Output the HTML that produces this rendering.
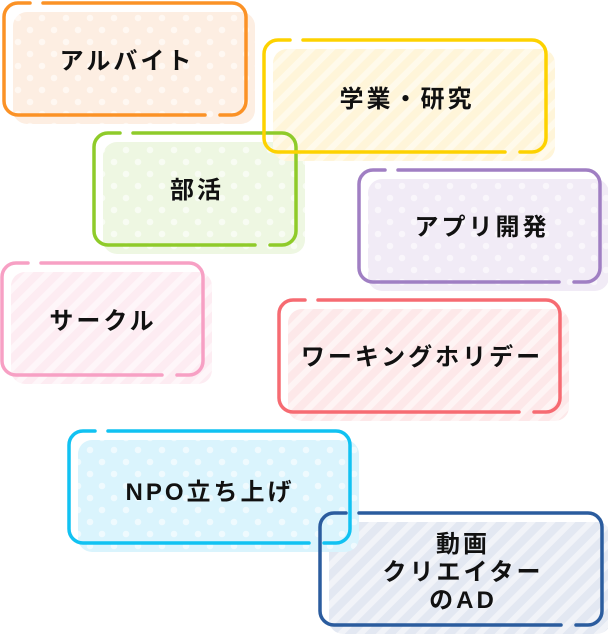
<!DOCTYPE html>
<html><head><meta charset="utf-8"><style>
html,body{margin:0;padding:0;background:#fff}
svg{display:block}
text{font-family:"Liberation Sans","Noto Sans CJK JP",sans-serif;font-size:24px;font-weight:bold;fill:#111;text-anchor:middle;letter-spacing:3px}
</style></head><body>
<svg width="608" height="637" viewBox="0 0 608 637" xmlns="http://www.w3.org/2000/svg">
<defs>
<pattern id="dO" width="24" height="24" patternUnits="userSpaceOnUse"><rect width="24" height="24" fill="#fdeee2"/><circle cx="6" cy="6" r="3.3" fill="#fff8f2"/><circle cx="18" cy="18" r="3.3" fill="#fff8f2"/></pattern>
<pattern id="dG" width="24" height="24" patternUnits="userSpaceOnUse"><rect width="24" height="24" fill="#eef7e2"/><circle cx="6" cy="6" r="3.3" fill="#f8fcf3"/><circle cx="18" cy="18" r="3.3" fill="#f8fcf3"/></pattern>
<pattern id="dP" width="24" height="24" patternUnits="userSpaceOnUse"><rect width="24" height="24" fill="#f1ebf6"/><circle cx="6" cy="6" r="3.3" fill="#f9f6fb"/><circle cx="18" cy="18" r="3.3" fill="#f9f6fb"/></pattern>
<pattern id="dC" width="24" height="24" patternUnits="userSpaceOnUse"><rect width="24" height="24" fill="#daf4fd"/><circle cx="6" cy="6" r="3.3" fill="#effafe"/><circle cx="18" cy="18" r="3.3" fill="#effafe"/></pattern>
<pattern id="sY" width="14" height="14" patternUnits="userSpaceOnUse" patternTransform="rotate(45)"><rect width="14" height="14" fill="#fff5d9"/><rect width="6" height="14" fill="#fffaeb"/></pattern>
<pattern id="sK" width="14" height="14" patternUnits="userSpaceOnUse" patternTransform="rotate(45)"><rect width="14" height="14" fill="#fdecf2"/><rect width="6" height="14" fill="#fef6f9"/></pattern>
<pattern id="sR" width="14" height="14" patternUnits="userSpaceOnUse" patternTransform="rotate(45)"><rect width="14" height="14" fill="#fde8e9"/><rect width="6" height="14" fill="#fef4f4"/></pattern>
<pattern id="sB" width="14" height="14" patternUnits="userSpaceOnUse" patternTransform="rotate(45)"><rect width="14" height="14" fill="#e3e8f2"/><rect width="6" height="14" fill="#f1f3f8"/></pattern>
</defs>
<g>
<rect x="329" y="522" width="282" height="112" rx="14" fill="url(#sB)"/>
<rect x="78" y="440" width="281" height="112" rx="14" fill="url(#dC)"/>
<rect x="288" y="309" width="281" height="112" rx="14" fill="url(#sR)"/>
<rect x="11" y="272" width="201" height="112" rx="14" fill="url(#sK)"/>
<rect x="368" y="179" width="241" height="112" rx="14" fill="url(#dP)"/>
<rect x="103" y="142" width="202" height="112" rx="14" fill="url(#dG)"/>
<rect x="273" y="49" width="282" height="112" rx="14" fill="url(#sY)"/>
<rect x="13" y="12" width="242" height="112" rx="14" fill="url(#dO)"/>
</g>
<g fill="none" stroke-width="3.5" stroke-linecap="round">
<path stroke="#2b5c9e" d="M359 513 h229 a14 14 0 0 1 14 14 v84 a14 14 0 0 1 -14 14 h-12 m-15 0 h-227 a14 14 0 0 1 -14 -14 v-84 a14 14 0 0 1 14 -14 h12"/>
<path stroke="#11c2f2" d="M108 431 h228 a14 14 0 0 1 14 14 v84 a14 14 0 0 1 -14 14 h-12 m-15 0 h-226 a14 14 0 0 1 -14 -14 v-84 a14 14 0 0 1 14 -14 h12"/>
<path stroke="#f66b72" d="M318 300 h228 a14 14 0 0 1 14 14 v84 a14 14 0 0 1 -14 14 h-12 m-15 0 h-226 a14 14 0 0 1 -14 -14 v-84 a14 14 0 0 1 14 -14 h12"/>
<path stroke="#f7a0c4" d="M41 263 h148 a14 14 0 0 1 14 14 v84 a14 14 0 0 1 -14 14 h-12 m-15 0 h-146 a14 14 0 0 1 -14 -14 v-84 a14 14 0 0 1 14 -14 h12"/>
<path stroke="#a07fc3" d="M398 170 h188 a14 14 0 0 1 14 14 v84 a14 14 0 0 1 -14 14 h-12 m-15 0 h-186 a14 14 0 0 1 -14 -14 v-84 a14 14 0 0 1 14 -14 h12"/>
<path stroke="#8fcb2a" d="M133 133 h149 a14 14 0 0 1 14 14 v84 a14 14 0 0 1 -14 14 h-12 m-15 0 h-147 a14 14 0 0 1 -14 -14 v-84 a14 14 0 0 1 14 -14 h12"/>
<path stroke="#fdd200" d="M303 40 h229 a14 14 0 0 1 14 14 v84 a14 14 0 0 1 -14 14 h-12 m-15 0 h-227 a14 14 0 0 1 -14 -14 v-84 a14 14 0 0 1 14 -14 h12"/>
<path stroke="#fb9226" d="M43 3 h189 a14 14 0 0 1 14 14 v84 a14 14 0 0 1 -14 14 h-12 m-15 0 h-187 a14 14 0 0 1 -14 -14 v-84 a14 14 0 0 1 14 -14 h12"/>
</g>
<text x="127" y="69">アルバイト</text>
<text x="407" y="107">学業・研究</text>
<text x="197" y="198">部活</text>
<text x="482" y="235">アプリ開発</text>
<text x="103" y="329">サークル</text>
<text x="422" y="365">ワーキングホリデー</text>
<text x="210" y="500">NPO立ち上げ</text>
<text x="463" y="552">動画</text>
<text x="463" y="580">クリエイター</text>
<text x="463" y="608">のAD</text>
</svg>
</body></html>
